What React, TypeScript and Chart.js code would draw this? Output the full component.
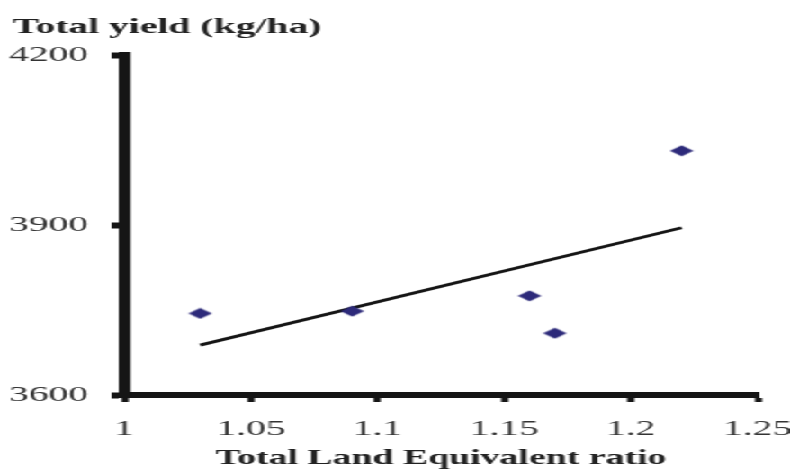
import { useEffect, useRef } from 'react';
import { Chart, registerables } from 'chart.js';

Chart.register(...registerables);

// ---- data ----
const xValues = [1.03, 1.09, 1.16, 1.17, 1.22];
const yValues = [3744, 3748, 3775, 3709, 4031];
const trendX = [1.03, 1.22];
const trendY = [3688, 3895];
const xTicks = [1, 1.05, 1.1, 1.15, 1.2, 1.25];
const xTickLabels = ['1', '1.05', '1.1', '1.15', '1.2', '1.25'];
const yTicks = [3600, 3900, 4200];
const yTickLabels = ['3600', '3900', '4200'];
const yTitle = 'Total yield (kg/ha)';
const xTitle = 'Total Land Equivalent ratio';

// ---- rendering setup ----
const W = 439;
const H = 471;
const SX = 790 / W; // the reference is stretched horizontally
const FAMILY = "'Liberation Serif', 'Times New Roman', serif";

function makeDiamond(): HTMLCanvasElement {
  const c = document.createElement('canvas');
  c.width = 14;
  c.height = 12;
  const ctx = c.getContext('2d')!;
  ctx.fillStyle = '#2d2a7a';
  ctx.beginPath();
  ctx.moveTo(7, 0.5);
  ctx.lineTo(13.5, 6);
  ctx.lineTo(7, 11.5);
  ctx.lineTo(0.5, 6);
  ctx.closePath();
  ctx.fill();
  return c;
}

const yTitlePlugin = {
  id: 'yTitleText',
  afterDraw(chart: any) {
    const ctx = chart.ctx;
    ctx.save();
    ctx.font = `bold 22px ${FAMILY}`;
    ctx.fillStyle = '#222';
    ctx.textAlign = 'left';
    ctx.textBaseline = 'alphabetic';
    ctx.fillText(yTitle, 7, 33);
    ctx.restore();
  },
};

export default function App() {
  const ref = useRef<HTMLCanvasElement>(null);

  useEffect(() => {
    document.body.style.margin = '0';
    const diamond = makeDiamond();
    const chart = new Chart(ref.current!, {
      type: 'scatter',
      data: {
        datasets: [
          {
            label: 'Yield',
            data: xValues.map((x, i) => ({ x, y: yValues[i] })),
            pointStyle: diamond as any,
            pointRadius: 7,
            backgroundColor: '#2d2a7a',
            borderColor: '#2d2a7a',
            showLine: false,
          },
          {
            label: 'Trend',
            data: trendX.map((x, i) => ({ x, y: trendY[i] })),
            showLine: true,
            borderColor: '#151515',
            borderWidth: 2.8,
            pointRadius: 0,
            fill: false,
          },
        ],
      },
      options: {
        responsive: false,
        animation: false,
        devicePixelRatio: 1,
        layout: { padding: { top: 55, left: 5, right: 18, bottom: 0 } },
        plugins: {
          legend: { display: false },
          tooltip: { enabled: false },
          title: { display: false },
        },
        scales: {
          x: {
            type: 'linear',
            min: 1,
            max: 1.25,
            afterBuildTicks: (s: any) => {
              s.ticks = xTicks.map((v) => ({ value: v }));
            },
            afterFit: (s: any) => {
              s.height = 76;
              s.paddingRight = 18;
            },
            ticks: {
              callback: (_v: any, i: number) => xTickLabels[i],
              font: { family: FAMILY, size: 22 },
              color: '#333',
              padding: 14,
              maxRotation: 0,
            },
            grid: {
              drawOnChartArea: false,
              drawTicks: true,
              tickLength: 7,
              tickWidth: 4,
              tickColor: '#151515',
            },
            border: { display: true, width: 6, color: '#151515' },
            title: {
              display: true,
              text: xTitle,
              font: { family: FAMILY, size: 21, weight: 'bold' },
              color: '#222',
              padding: { top: 0, bottom: 0 },
            },
          },
          y: {
            type: 'linear',
            min: 3600,
            max: 4200,
            afterBuildTicks: (s: any) => {
              s.ticks = yTicks.map((v) => ({ value: v }));
            },
            afterFit: (s: any) => {
              s.width = 64;
            },
            ticks: {
              callback: (_v: any, i: number) => yTickLabels[i],
              font: { family: FAMILY, size: 22 },
              color: '#333',
              padding: 13,
            },
            grid: {
              drawOnChartArea: false,
              drawTicks: true,
              tickLength: 7,
              tickWidth: 6,
              tickColor: '#151515',
            },
            border: { display: true, width: 6.5, color: '#151515' },
          },
        },
      },
      plugins: [yTitlePlugin],
    });
    return () => chart.destroy();
  }, []);

  return (
    <div
      style={{
        position: 'fixed',
        left: 0,
        top: 0,
        width: W,
        height: H,
        transform: `scaleX(${SX})`,
        transformOrigin: '0 0',
        background: '#fff',
      }}
    >
      <canvas ref={ref} width={W} height={H} style={{ display: 'block' }} />
    </div>
  );
}
